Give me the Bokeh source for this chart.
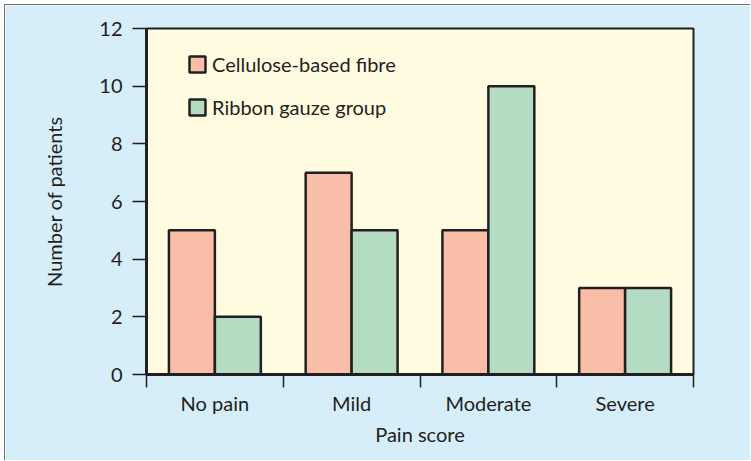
from bokeh.plotting import figure
from bokeh.models import FixedTicker, Range1d, Legend, LegendItem, ColumnDataSource
from bokeh.embed import file_html
from bokeh.resources import INLINE
import numpy as np

categories = ["No pain", "Mild", "Moderate", "Severe"]
cellulose = [5, 7, 5, 3]
ribbon = [2, 5, 10, 3]
series_names = ["Cellulose-based fibre", "Ribbon gauze group"]
y_ticks = [0, 2, 4, 6, 8, 10, 12]
x_title = "Pain score"
y_title = "Number of patients"

FONT = "Lato"
FS = "20px"
INK = "#231f20"
SALMON = "#f9bea8"
GREEN = "#b4dcc3"
BAR_W = 0.336

idx = np.arange(len(categories))
src = ColumnDataSource(dict(
    x1=idx + 0.5 - BAR_W / 2,
    x2=idx + 0.5 + BAR_W / 2,
    c=cellulose,
    r=ribbon,
))

p = figure(width=746, height=456, x_range=Range1d(0, len(categories)),
           y_range=Range1d(0, 12), output_backend="svg", toolbar_location=None,
           min_border_left=141, min_border_top=23, min_border_right=58,
           min_border_bottom=87)
p.background_fill_color = "#fffbe0"
p.border_fill_color = "#d6edfa"
p.outline_line_color = INK
p.outline_line_width = 2
p.xgrid.visible = False
p.ygrid.visible = False
p.styles = {"margin-left": "4px", "margin-top": "4px",
            "border-left": "1px solid #707070", "border-top": "1px solid #707070"}

r1 = p.vbar(x="x1", top="c", width=BAR_W, source=src, fill_color=SALMON,
            line_color=INK, line_width=2.5)
r2 = p.vbar(x="x2", top="r", width=BAR_W, source=src, fill_color=GREEN,
            line_color=INK, line_width=2.5)

# x axis: boundary ticks as minor ticks, labels at category centres
centers = [float(i) + 0.5 for i in idx]
xa = p.xaxis[0]
xa.ticker = FixedTicker(ticks=centers, minor_ticks=[float(i) for i in range(len(categories) + 1)])
xa.major_label_overrides = {c: lab for c, lab in zip(centers, categories)}
xa.major_tick_line_color = None
xa.major_tick_out = 13
xa.major_tick_in = 0
xa.minor_tick_out = 13
xa.minor_tick_in = 0
xa.minor_tick_line_color = INK
xa.minor_tick_line_width = 1.5
xa.axis_line_color = INK
xa.axis_line_width = 3
xa.major_label_standoff = 3
xa.axis_label = x_title
xa.axis_label_standoff = 4

ya = p.yaxis[0]
ya.ticker = FixedTicker(ticks=y_ticks)
ya.minor_tick_line_color = None
ya.major_tick_out = 14
ya.major_tick_in = 0
ya.major_tick_line_color = INK
ya.major_tick_line_width = 1.5
ya.axis_line_color = INK
ya.axis_line_width = 3
ya.major_label_standoff = 10
ya.axis_label = y_title
ya.axis_label_standoff = 30

for ax in (xa, ya):
    ax.major_label_text_font = FONT
    ax.major_label_text_font_size = FS
    ax.major_label_text_color = INK
    ax.axis_label_text_font = FONT
    ax.axis_label_text_font_size = FS
    ax.axis_label_text_font_style = "normal"
    ax.axis_label_text_color = INK

legend = Legend(items=[LegendItem(label=series_names[0], renderers=[r1]),
                       LegendItem(label=series_names[1], renderers=[r2])],
                location=(41, 255))
legend.background_fill_alpha = 0
legend.border_line_color = None
legend.padding = 0
legend.margin = 0
legend.spacing = 19
legend.glyph_width = 20
legend.glyph_height = 20
legend.label_height = 20
legend.label_standoff = 5
legend.label_text_font = FONT
legend.label_text_font_size = FS
legend.label_text_color = INK
p.add_layout(legend)

open("out.html", "w").write(file_html(p, INLINE))
